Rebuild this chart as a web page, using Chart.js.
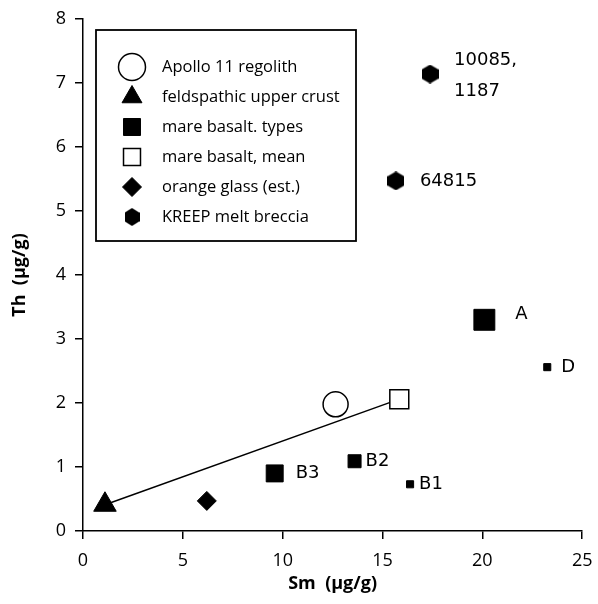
<!DOCTYPE html>
<html>
<head>
<meta charset="utf-8">
<script src="https://cdn.jsdelivr.net/npm/chart.js@4.4.1/dist/chart.umd.min.js"></script>
<style>
  html, body { margin: 0; padding: 0; background: #fff; }
  #wrap { width: 598px; height: 604px; }
</style>
</head>
<body>
<div id="wrap"><canvas id="chart" width="598" height="604"></canvas></div>
<script>
// values (Sm, Th in ug/g)
const regolith = [{ x: 12.65, y: 1.98 }];
const upperCrust = [{ x: 1.1, y: 0.41 }];
const basaltTypes = [
  { x: 20.1, y: 3.30 },
  { x: 23.25, y: 2.56 },
  { x: 9.6, y: 0.90 },
  { x: 13.6, y: 1.09 },
  { x: 16.38, y: 0.73 }
];
const basaltTypeNames = ['A', 'D', 'B3', 'B2', 'B1'];
const basaltMean = [{ x: 15.84, y: 2.06 }];
const orangeGlass = [{ x: 6.2, y: 0.47 }];
const kreep = [
  { x: 17.38, y: 7.14 },
  { x: 15.67, y: 5.47 }
];
const kreepNames = [['10085,', '1187'], ['64815']];
const legendNames = [
  'Apollo 11 regolith',
  'feldspathic upper crust',
  'mare basalt. types',
  'mare basalt, mean',
  'orange glass (est.)',
  'KREEP melt breccia'
];
const xTicks = [0, 5, 10, 15, 20, 25];
const yTicks = [0, 1, 2, 3, 4, 5, 6, 7, 8];

// hexagon marker, drawn once on a small canvas
function hexagon(w, h) {
  const c = document.createElement('canvas');
  c.width = w; c.height = h;
  const g = c.getContext('2d');
  g.fillStyle = '#000';
  g.beginPath();
  g.moveTo(w / 2, 0);
  g.lineTo(w, h * 0.26);
  g.lineTo(w, h * 0.74);
  g.lineTo(w / 2, h);
  g.lineTo(0, h * 0.74);
  g.lineTo(0, h * 0.26);
  g.closePath();
  g.fill();
  return c;
}
const hexMark = hexagon(17, 19);
const hexLegend = hexagon(15, 18);

const labelFont = '18px "DejaVu Sans"';

// text next to points
const pointLabels = {
  id: 'pointLabels',
  afterDatasetsDraw(chart) {
    const ctx = chart.ctx;
    const xs = chart.scales.x, ys = chart.scales.y;
    ctx.save();
    ctx.fillStyle = '#000';
    ctx.font = labelFont;
    ctx.textBaseline = 'middle';
    const basaltOff = [[31, -5], [14, 0], [21, 0], [11, 0], [9, 0]];
    basaltTypes.forEach((p, i) => {
      ctx.fillText(basaltTypeNames[i], xs.getPixelForValue(p.x) + basaltOff[i][0],
        ys.getPixelForValue(p.y) + basaltOff[i][1]);
    });
    const kreepOff = [[24, -14], [24, 0]];
    kreep.forEach((p, i) => {
      kreepNames[i].forEach((line, j) => {
        ctx.fillText(line, xs.getPixelForValue(p.x) + kreepOff[i][0],
          ys.getPixelForValue(p.y) + kreepOff[i][1] + j * 31);
      });
    });
    ctx.restore();
  }
};

// boxed legend inside the plot
const boxLegend = {
  id: 'boxLegend',
  afterDraw(chart) {
    const ctx = chart.ctx;
    ctx.save();
    ctx.strokeStyle = '#000';
    ctx.lineWidth = 1.8;
    ctx.fillStyle = '#fff';
    ctx.fillRect(96, 30, 260, 211);
    ctx.strokeRect(96, 30, 260, 211);
    const marks = [
      { pointStyle: 'circle', radius: 13.5, fill: '#fff', border: 1.5 },
      { pointStyle: 'triangle', radius: 11.5, fill: '#000', border: 1 },
      { pointStyle: 'rect', radius: 12, fill: '#000', border: 1 },
      { pointStyle: 'rect', radius: 12, fill: '#fff', border: 1.5 },
      { pointStyle: 'rectRot', radius: 9.5, fill: '#000', border: 1 },
      { pointStyle: hexLegend, radius: 9, fill: '#000', border: 0 }
    ];
    ctx.font = '16.5px "Open Sans"';
    ctx.textBaseline = 'middle';
    legendNames.forEach((name, i) => {
      const y = 67 + i * 30;
      const m = marks[i];
      ctx.fillStyle = m.fill;
      ctx.strokeStyle = '#000';
      ctx.lineWidth = m.border;
      Chart.helpers.drawPoint(ctx, { pointStyle: m.pointStyle, radius: m.radius, rotation: 0, borderWidth: m.border }, 132, y);
      ctx.fillStyle = '#000';
      ctx.fillText(name, 162, y);
    });
    ctx.restore();
  }
};

new Chart(document.getElementById('chart'), {
  type: 'scatter',
  data: {
    datasets: [
      {
        label: 'mixing line',
        data: [upperCrust[0], basaltMean[0]],
        showLine: true,
        borderColor: '#000',
        borderWidth: 1.5,
        pointRadius: 0,
        order: 10
      },
      {
        label: legendNames[0],
        data: regolith,
        pointStyle: 'circle',
        pointRadius: 12.5,
        backgroundColor: '#fff',
        borderColor: '#000',
        borderWidth: 1.5
      },
      {
        label: legendNames[1],
        data: upperCrust,
        pointStyle: 'triangle',
        pointRadius: 13,
        backgroundColor: '#000',
        borderColor: '#000',
        borderWidth: 1
      },
      {
        label: legendNames[2],
        data: basaltTypes,
        pointStyle: 'rect',
        pointRadius: [14.8, 5, 12, 9.2, 5],
        backgroundColor: '#000',
        borderColor: '#000',
        borderWidth: 1
      },
      {
        label: legendNames[3],
        data: basaltMean,
        pointStyle: 'rect',
        pointRadius: 13.4,
        backgroundColor: '#fff',
        borderColor: '#000',
        borderWidth: 1.5
      },
      {
        label: legendNames[4],
        data: orangeGlass,
        pointStyle: 'rectRot',
        pointRadius: 9.5,
        backgroundColor: '#000',
        borderColor: '#000',
        borderWidth: 1
      },
      {
        label: legendNames[5],
        data: kreep,
        pointStyle: hexMark,
        pointRadius: 9,
        backgroundColor: '#000',
        borderColor: '#000'
      }
    ]
  },
  options: {
    responsive: false,
    animation: false,
    devicePixelRatio: 1,
    layout: { padding: { top: 19, right: 11, left: 0, bottom: 0 } },
    plugins: {
      legend: { display: false },
      tooltip: { enabled: false }
    },
    scales: {
      x: {
        type: 'linear',
        min: 0,
        max: 25,
        afterBuildTicks: (s) => { s.ticks = xTicks.map(v => ({ value: v })); },
        afterFit: (s) => { s.height = 73; s.paddingLeft = 0; s.paddingRight = 0; },
        grid: { drawOnChartArea: false, color: '#000', tickLength: 8, lineWidth: 1.5 },
        border: { color: '#000', width: 1.5 },
        ticks: { color: '#000', font: { family: 'Open Sans', size: 18 }, padding: 11 },
        title: {
          display: true,
          text: 'Sm  (\u00b5g/g)',
          color: '#000',
          font: { family: 'Open Sans', size: 18, weight: 'bold' },
          padding: { top: 0, bottom: 9 }
        }
      },
      y: {
        type: 'linear',
        min: 0,
        max: 8,
        afterBuildTicks: (s) => { s.ticks = yTicks.map(v => ({ value: v })); },
        afterFit: (s) => { s.width = 83; s.paddingTop = 0; s.paddingBottom = 0; },
        grid: { drawOnChartArea: false, color: '#000', tickLength: 8, lineWidth: 1.5 },
        border: { color: '#000', width: 1.5 },
        ticks: { color: '#000', font: { family: 'Open Sans', size: 18 }, padding: 9 },
        title: {
          display: true,
          text: 'Th  (\u00b5g/g)',
          color: '#000',
          font: { family: 'Open Sans', size: 18, weight: 'bold' },
          padding: { top: 9, bottom: 0 }
        }
      }
    }
  },
  plugins: [pointLabels, boxLegend]
});
</script>
</body>
</html>
